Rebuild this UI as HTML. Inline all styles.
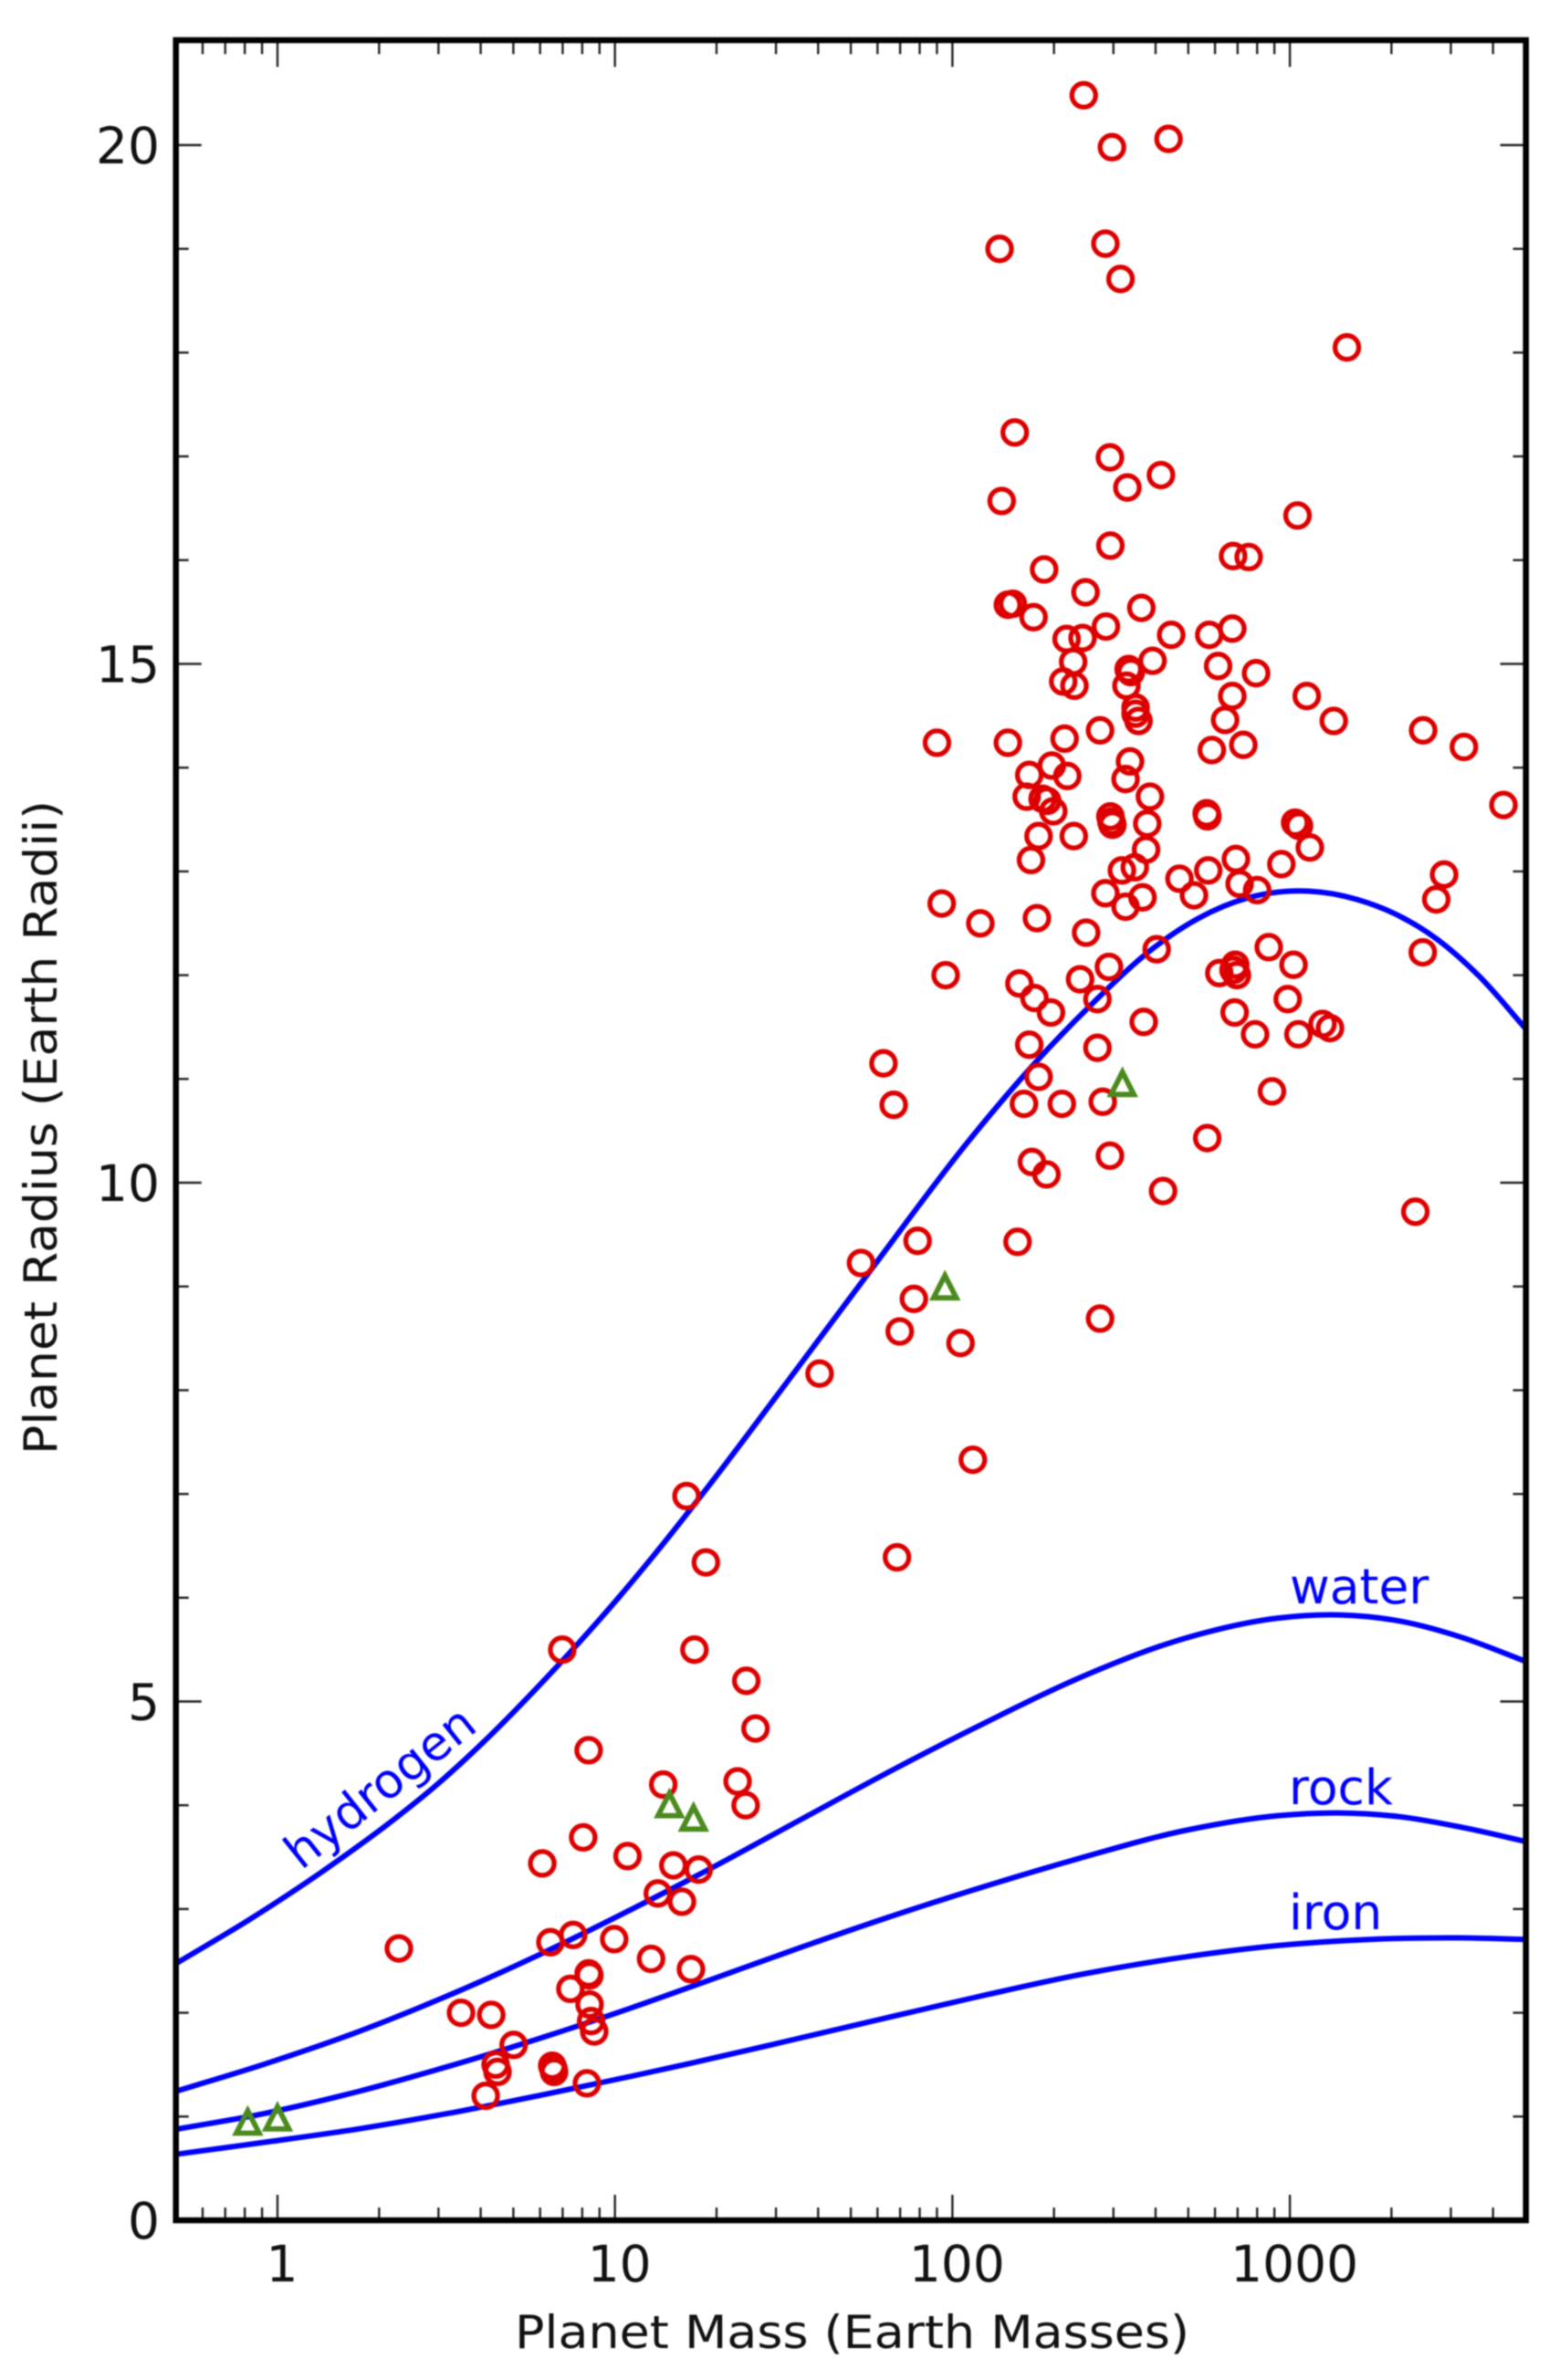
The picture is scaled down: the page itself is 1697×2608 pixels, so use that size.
<!DOCTYPE html>
<html>
<head>
<meta charset="utf-8">
<title>Planet Mass-Radius</title>
<style>
html,body{margin:0;padding:0;background:#fff;}
svg{display:block;filter:blur(0.7px);}
text{font-family:"DejaVu Sans","Liberation Sans",sans-serif;}
</style>
</head>
<body>
<svg id="chart" xmlns="http://www.w3.org/2000/svg" width="1697" height="2608" viewBox="0 0 1697 2608">
<rect x="0" y="0" width="1697" height="2608" fill="#fff"/>
<g id="curves"></g>
<g id="exoplanets"></g>
<g id="solar"></g>
<g id="ticks"></g>
<rect x="192.7" y="44" width="1479" height="2389" fill="none" stroke="#000" stroke-width="6.5"/>
<g id="ticklabels"></g>
<text x="564" y="2573" font-size="50" fill="#111" textLength="739" lengthAdjust="spacingAndGlyphs">Planet Mass (Earth Masses)</text>
<text transform="translate(62,1594) rotate(-90)" x="0" y="0" font-size="50" fill="#111" textLength="717" lengthAdjust="spacingAndGlyphs">Planet Radius (Earth Radii)</text>
<text transform="translate(330,2050) rotate(-38.5)" font-size="52.5" fill="#0000ff">hydrogen</text>
<text x="1413" y="1757" font-size="53.5" fill="#0000ff">water</text>
<text x="1412" y="1977" font-size="53.5" fill="#0000ff">rock</text>
<text x="1412" y="2114" font-size="53.5" fill="#0000ff">iron</text>
</svg>
<script>
// ---- data ----
var planetMass = [245,297,437,138,284,315,1476,153,293,415,330,140,1054,294,679,755,187,248,146,151,174,363,285,218,243,445,577,675,228,392,613,794,213,230,333,338,328,349,349,356,675,643,1122,1349,2482,3280,4295,728,587,274,215,146,90,197,169,219,336,326,385,166,185,191,199,294,296,298,567,570,378,1037,1064,1146,180,229,171,375,692,944,573,318,347,471,710,2865,2716,520,800,284,366,326,93,121,178,249,403,2477,866,1025,689,618,681,697,95.5,291,239,158,175,196,269,369,986,686,789,1060,1250,1315,169,269,62.5,180,67,163,211,279,885,569,172,190,293,421,2355,78.9,156,53.6,76.9,69.8,105.7,274,40.4,16.3,18.6,68.5,115,6.98,17.2,24.5,26.1,8.36,13.9,23.1,24.4,8.05,6.09,10.9,14.9,17.7,13.4,15.8,2.29,6.44,7.52,9.95,12.8,16.8,8.36,8.4,7.38,8.41,8.5,8.68,3.5,4.3,5.01,4.43,4.49,6.52,6.57,6.6,8.26,4.14];
var planetRadius = [20.48,19.98,20.06,19.0,19.05,18.71,18.05,17.23,16.99,16.82,16.70,16.57,16.43,16.14,16.04,16.03,15.91,15.69,15.57,15.58,15.45,15.54,15.36,15.24,15.25,15.28,15.28,15.34,15.02,15.03,14.98,14.91,14.83,14.79,14.95,14.92,14.79,14.58,14.52,14.45,14.69,14.46,14.69,14.45,14.36,14.20,13.64,14.22,14.17,14.36,14.28,14.24,14.24,14.02,13.93,13.92,14.06,13.89,13.72,13.72,13.70,13.68,13.58,13.53,13.48,13.45,13.56,13.53,13.46,13.47,13.44,13.23,13.34,13.34,13.11,13.21,13.12,13.07,13.01,13.01,13.04,12.93,12.88,12.97,12.73,12.77,12.82,12.79,12.75,12.66,12.69,12.50,12.55,12.41,12.25,12.22,12.27,12.10,12.10,12.02,12.05,12.0,12.0,12.08,11.96,11.92,11.78,11.64,11.77,11.55,11.77,11.64,11.43,11.43,11.53,11.49,11.33,11.30,11.15,11.02,10.75,10.76,10.76,10.78,10.88,10.43,10.20,10.08,10.26,9.92,9.72,9.44,9.43,9.226,8.88,8.566,8.455,8.69,8.16,6.98,6.34,6.39,7.33,5.50,5.50,5.20,4.74,4.53,4.20,4.23,4.00,3.69,3.44,3.51,3.42,3.38,3.15,3.07,2.62,2.68,2.75,2.71,2.52,2.42,2.38,2.36,2.23,2.08,1.92,1.82,2.0,1.98,1.69,1.50,1.43,1.49,1.46,1.43,1.32,1.20];
var solarMass = [0.816,1,14.5,17.1,95,319];
var solarRadius = [0.95,0.99,4.01,3.88,9.0,10.96];
var hydrogenMass = [0.5,0.826,1.388,2.1,2.93,4.26,5.82,7.76,10.4,12.8,18.2,31.9,57,111,182,265,393,537,749,1135,1581,2113,2712,3630,5000];
var hydrogenRadius = [2.474,2.899,3.383,3.806,4.183,4.669,5.118,5.555,6.025,6.376,7.003,8.052,9.148,10.391,11.208,11.754,12.258,12.55,12.744,12.81,12.73,12.57,12.354,11.994,11.484];
var waterMass = [0.5,0.916,1.708,3.18,5.94,11.07,19.4,36.1,67.4,125.6,234,494,922,1396,2113,3205,5000];
var waterRadius = [1.243,1.506,1.809,2.161,2.557,2.989,3.398,3.874,4.35,4.799,5.218,5.614,5.804,5.835,5.776,5.622,5.387];
var rockMass = [0.5,0.916,1.708,3.18,5.94,11.07,19.4,36.1,67.4,125.6,234,494,922,1396,2113,3205,5000];
var rockRadius = [0.877,1.03,1.236,1.479,1.75,2.042,2.324,2.638,2.941,3.222,3.482,3.76,3.9,3.926,3.89,3.79,3.651];
var ironMass = [0.5,0.916,1.708,3.18,5.94,11.07,19.4,36.1,67.4,125.6,234,494,922,1718,3205,5000];
var ironRadius = [0.636,0.752,0.877,1.028,1.201,1.385,1.56,1.763,1.969,2.172,2.362,2.54,2.648,2.707,2.722,2.707];
var xMajorTicks = [1,10,100,1000];
var xMinorTicks = [0.6,0.7,0.8,0.9,2,3,4,5,6,7,8,9,20,30,40,50,60,70,80,90,200,300,400,500,600,700,800,900,2000,3000,4000];
var yMajorTicks = [0,5,10,15,20];
var yMinorTicks = [1,2,3,4,6,7,8,9,11,12,13,14,16,17,18,19];
var xTickLabels = ["1","10","100","1000"];
var yTickLabels = ["0","5","10","15","20"];

// ---- axis functions ----
var NS = 'http://www.w3.org/2000/svg';
function xAxis(m){ return 304 + 369.7 * Math.log10(m); }
function yAxis(r){ return 2433 - 113.7 * r; }
var plotLeft = xAxis(0.5), plotRight = xAxis(5000), plotBottom = yAxis(0), plotTop = yAxis(21);

function make(tag, parent, attrs){
  var el = document.createElementNS(NS, tag);
  for (var k in attrs) el.setAttribute(k, attrs[k]);
  parent.appendChild(el);
  return el;
}

// Non-uniform cubic Hermite through the read points, so uneven sample spacing does not kink the line.
function smoothPath(ms, rs){
  var px = ms.map(xAxis), py = rs.map(yAxis), n = px.length, h = [], s = [], t = [];
  for (var i = 0; i < n - 1; i++){ h[i] = px[i+1] - px[i]; s[i] = (py[i+1] - py[i]) / h[i]; }
  t[0] = s[0]; t[n-1] = s[n-2];
  for (var j = 1; j < n - 1; j++){ t[j] = (h[j-1] * s[j] + h[j] * s[j-1]) / (h[j-1] + h[j]); }
  var d = 'M' + px[0].toFixed(1) + ' ' + py[0].toFixed(1);
  for (var k = 0; k < n - 1; k++){
    var c1x = px[k] + h[k]/3, c1y = py[k] + t[k]*h[k]/3;
    var c2x = px[k+1] - h[k]/3, c2y = py[k+1] - t[k+1]*h[k]/3;
    d += 'C' + c1x.toFixed(1) + ' ' + c1y.toFixed(1) + ' ' + c2x.toFixed(1) + ' ' + c2y.toFixed(1) + ' ' + px[k+1].toFixed(1) + ' ' + py[k+1].toFixed(1);
  }
  return d;
}

// ---- curves ----
var curveGroup = document.getElementById('curves');
var hydrogenLine = make('path', curveGroup, {d: smoothPath(hydrogenMass, hydrogenRadius), fill:'none', stroke:'#0000ff', 'stroke-width':6});


var waterLine = make('path', curveGroup, {d: smoothPath(waterMass, waterRadius), fill:'none', stroke:'#0000ff', 'stroke-width':6});


var rockLine = make('path', curveGroup, {d: smoothPath(rockMass, rockRadius), fill:'none', stroke:'#0000ff', 'stroke-width':6});


var ironLine = make('path', curveGroup, {d: smoothPath(ironMass, ironRadius), fill:'none', stroke:'#0000ff', 'stroke-width':6});



// ---- exoplanets ----
var exoGroup = document.getElementById('exoplanets');
planetMass.forEach(function(m, i){
  var c = make('circle', exoGroup, {cx: xAxis(m).toFixed(1), cy: yAxis(planetRadius[i]).toFixed(1), r: 13, fill:'none', stroke:'#dc0000', 'stroke-width':5.3});
  
  
});

// ---- solar system ----
var solarGroup = document.getElementById('solar');
solarMass.forEach(function(m, i){
  var cx = xAxis(m), cy = yAxis(solarRadius[i]);
  var t = make('path', solarGroup, {d: 'M' + cx.toFixed(1) + ' ' + (cy-12).toFixed(1) + 'L' + (cx+12.5).toFixed(1) + ' ' + (cy+12.5).toFixed(1) + 'L' + (cx-12.5).toFixed(1) + ' ' + (cy+12.5).toFixed(1) + 'Z', fill:'none', stroke:'#4b8a1e', 'stroke-width':5.8, 'stroke-linejoin':'miter'});
  
  
});

// ---- ticks ----
var tickGroup = document.getElementById('ticks');
function xTick(v, len){
  var x = xAxis(v);
  var a = make('line', tickGroup, {x1:x, x2:x, y1:plotBottom, y2:plotBottom-len, stroke:'#222', 'stroke-width':2.4});
  
  
  var b = make('line', tickGroup, {x1:x, x2:x, y1:plotTop, y2:plotTop+len, stroke:'#222', 'stroke-width':2.4});
  
  
}
function yTick(v, len){
  var y = yAxis(v);
  var a = make('line', tickGroup, {x1:plotLeft, x2:plotLeft+len, y1:y, y2:y, stroke:'#222', 'stroke-width':2.4});
  
  
  var b = make('line', tickGroup, {x1:plotRight, x2:plotRight-len, y1:y, y2:y, stroke:'#222', 'stroke-width':2.4});
  
  
}
xMajorTicks.forEach(function(v){ xTick(v, 28); });
xMinorTicks.forEach(function(v){ xTick(v, 14); });
yMajorTicks.forEach(function(v){ yTick(v, 28); });
yMinorTicks.forEach(function(v){ yTick(v, 14); });

// ---- tick labels ----
var labelGroup = document.getElementById('ticklabels');
xMajorTicks.forEach(function(v, i){
  var t = make('text', labelGroup, {x: xAxis(v)+5, y: 2500, 'font-size':55, 'text-anchor':'middle', fill:'#111'});
  t.textContent = xTickLabels[i];
  
  
});
yMajorTicks.forEach(function(v, i){
  var t = make('text', labelGroup, {x: 175, y: yAxis(v)+20, 'font-size':55, 'text-anchor':'end', fill:'#111'});
  t.textContent = yTickLabels[i];
  
  
});
</script>
</body>
</html>
